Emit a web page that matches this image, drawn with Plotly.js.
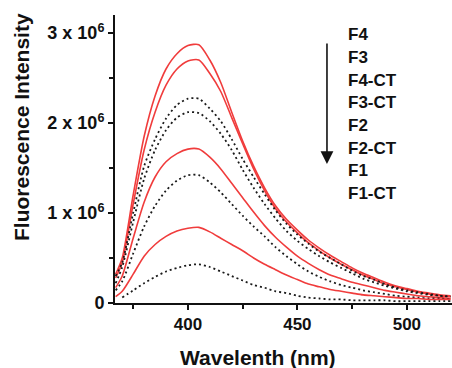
<!DOCTYPE html>
<html>
<head>
<meta charset="utf-8">
<script src="https://cdn.plot.ly/plotly-3.0.1.min.js"></script>
<style>html,body{margin:0;padding:0;background:#fff;}#chart{width:452px;height:368px;}</style>
</head>
<body>
<div id="chart"></div>
<script>
// Wavelength grid (nm)
const wavelength = [367,370,375,380,385,390,395,400,405,410,415,420,425,430,435,440,445,450,455,460,465,470,475,480,485,490,495,500,505,510,515,520];
// Intensities in units of 1e6
const F4    = [0.32,0.50,1.20,1.85,2.30,2.60,2.77,2.86,2.87,2.70,2.45,2.12,1.80,1.52,1.28,1.08,0.93,0.81,0.70,0.61,0.53,0.46,0.39,0.33,0.28,0.23,0.19,0.16,0.13,0.11,0.09,0.08];
const F3    = [0.28,0.45,1.10,1.70,2.12,2.42,2.60,2.69,2.70,2.55,2.35,2.06,1.77,1.49,1.25,1.05,0.90,0.78,0.67,0.58,0.50,0.43,0.37,0.31,0.26,0.21,0.18,0.15,0.12,0.10,0.08,0.07];
const F4CT  = [0.30,0.45,1.00,1.52,1.82,2.05,2.20,2.27,2.27,2.16,2.02,1.82,1.60,1.40,1.21,1.03,0.88,0.76,0.66,0.57,0.50,0.43,0.36,0.30,0.26,0.21,0.17,0.14,0.12,0.10,0.08,0.07];
const F3CT  = [0.22,0.40,0.90,1.38,1.70,1.92,2.06,2.12,2.11,2.02,1.88,1.70,1.48,1.28,1.10,0.94,0.80,0.69,0.60,0.52,0.45,0.39,0.33,0.27,0.23,0.19,0.16,0.13,0.11,0.09,0.08,0.07];
const F2    = [0.17,0.30,0.72,1.12,1.40,1.57,1.66,1.71,1.71,1.62,1.49,1.33,1.17,1.01,0.86,0.73,0.62,0.52,0.44,0.37,0.31,0.27,0.23,0.20,0.17,0.14,0.12,0.10,0.08,0.07,0.06,0.05];
const F2CT  = [0.14,0.24,0.55,0.85,1.08,1.25,1.36,1.42,1.42,1.34,1.23,1.10,0.97,0.85,0.74,0.62,0.52,0.43,0.35,0.29,0.24,0.20,0.17,0.14,0.12,0.10,0.08,0.07,0.06,0.05,0.05,0.04];
const F1    = [0.07,0.13,0.32,0.52,0.65,0.74,0.80,0.83,0.84,0.79,0.72,0.65,0.58,0.50,0.43,0.37,0.31,0.26,0.21,0.18,0.15,0.13,0.11,0.09,0.08,0.07,0.06,0.05,0.05,0.04,0.04,0.04];
const F1CT  = [null,0.06,0.14,0.22,0.29,0.35,0.39,0.42,0.43,0.40,0.35,0.30,0.25,0.20,0.17,0.13,0.11,0.08,0.06,0.05,0.04,0.04,0.03,0.03,0.03,0.03,0.02,0.02,0.02,0.02,0.02,0.02];

const labels = ["F4","F3","F4-CT","F3-CT","F2","F2-CT","F1","F1-CT"];
const yTickVals = [0,1e6,2e6,3e6];
const yTickText = ["0","1 x 10<sup>6</sup>","2 x 10<sup>6</sup>","3 x 10<sup>6</sup>"];
const xTickVals = [400,450,500];
const xTitle = 'Wavelenth (nm)';
const yTitle = 'Fluorescence Intensity';

const scale = a => a.map(v => v === null ? null : v * 1e6);
const red = {color:'#f03c3c', width:1.6, shape:'spline', smoothing:0.7};
const dots = {color:'#1a1a1a', width:1.8, dash:'2px,3px', shape:'spline', smoothing:0.7};

const series = [
  {y:F4, line:red}, {y:F3, line:red},
  {y:F4CT, line:dots}, {y:F3CT, line:dots},
  {y:F2, line:red}, {y:F2CT, line:dots},
  {y:F1, line:red}, {y:F1CT, line:dots}
];
const traces = series.map((s,i) => ({
  x: wavelength, y: scale(s.y), type:'scatter', mode:'lines',
  line: s.line, name: labels[i], showlegend:false, hoverinfo:'skip', connectgaps:false
}));

const fontFam = 'Liberation Sans, Arial, sans-serif';
const lblFont = {family:fontFam, size:17, color:'#111', weight:'bold'};
const titleFont = {family:fontFam, size:21, color:'#111', weight:'bold'};

const annotations = labels.map((t,i) => ({
  xref:'paper', yref:'paper', x:0.685, y:(303-(35+22.6*i))/288,
  xanchor:'left', yanchor:'middle', text:t, showarrow:false, font:lblFont
}));
annotations.push({
  xref:'paper', yref:'paper', x:0.629, y:(303-164)/288,
  ax:0, ay:-122, axref:'pixel', ayref:'pixel', text:'', showarrow:true,
  arrowhead:2, arrowsize:1.6, arrowwidth:1.6, arrowcolor:'#111'
});
annotations.push({
  xref:'paper', yref:'paper', x:(258-115)/337, y:(303-357)/288,
  xanchor:'center', yanchor:'middle', text:xTitle, showarrow:false, font:titleFont
});
annotations.push({
  xref:'paper', yref:'paper', x:(22-115)/337, y:(303-127)/288,
  xanchor:'center', yanchor:'middle', text:yTitle, textangle:-90, showarrow:false, font:titleFont
});

const layout = {
  width:452, height:368,
  margin:{l:115, r:0, t:15, b:65},
  paper_bgcolor:'#fff', plot_bgcolor:'#fff',
  showlegend:false,
  xaxis:{
    range:[366.7,520.6], showgrid:false, zeroline:false,
    showline:true, linecolor:'#111', linewidth:2,
    tickvals:xTickVals, ticks:'outside', ticklen:5, tickwidth:2, tickcolor:'#111',
    minor:{tickvals:[375,425,475], ticks:'outside', ticklen:4, tickwidth:2, tickcolor:'#111'},
    tickfont:{family:fontFam, size:17, color:'#111', weight:'bold'}
  },
  yaxis:{
    range:[0,3.2e6], showgrid:false, zeroline:false,
    showline:true, linecolor:'#111', linewidth:2,
    tickvals:yTickVals, ticktext:yTickText, ticks:'outside', ticklen:5, tickwidth:2, tickcolor:'#111',
    minor:{tickvals:[0.5e6,1.5e6,2.5e6], ticks:'outside', ticklen:4, tickwidth:2, tickcolor:'#111'},
    tickfont:{family:fontFam, size:18, color:'#111', weight:'bold'}
  },
  annotations:annotations
};

Plotly.newPlot('chart', traces, layout, {staticPlot:true, displayModeBar:false});
</script>
</body>
</html>
